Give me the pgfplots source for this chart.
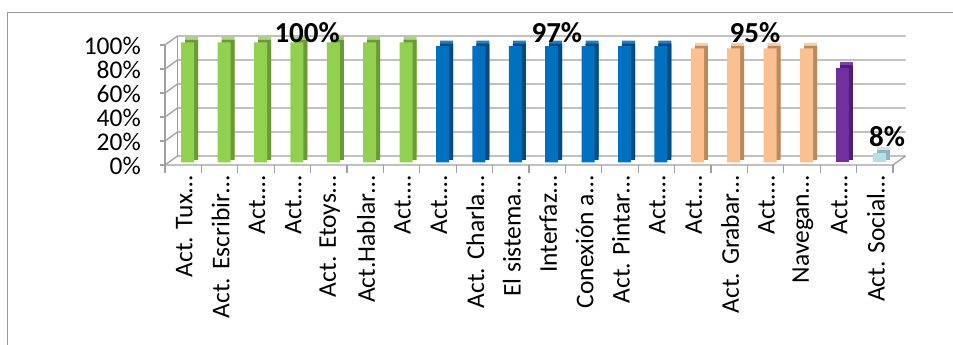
\documentclass[border=0pt]{standalone}
\usepackage{pgfplots}
\pgfplotsset{compat=1.18}
\usepackage{fontspec}
\setmainfont{Carlito}
\definecolor{gF}{HTML}{92D050}\definecolor{gS}{HTML}{6A9A38}\definecolor{gT}{HTML}{A6DA6C}
\definecolor{bF}{HTML}{0070C0}\definecolor{bS}{HTML}{004A80}\definecolor{bT}{HTML}{1A80C8}
\definecolor{oF}{HTML}{FAC08F}\definecolor{oS}{HTML}{B88A60}\definecolor{oT}{HTML}{FCCDA4}
\definecolor{pF}{HTML}{7030A0}\definecolor{pS}{HTML}{4E1F75}\definecolor{pT}{HTML}{8040B0}
\definecolor{lF}{HTML}{B7DEE8}\definecolor{lS}{HTML}{8FB5C0}\definecolor{lT}{HTML}{C8E6EE}
\definecolor{gridc}{HTML}{A0A0A0}
\begin{document}
\begin{tikzpicture}[x=1pt,y=1pt]
\useasboundingbox (0,0) rectangle (953,345);
\fill[white] (0,0) rectangle (953,345);
\draw[color=gray!80, line width=1pt] (7,0) -- (7,332) -- (953,332);
% front axis, left wall, floor
\foreach \k in {0,1,2,3,4,5} {
  \draw[gridc, line width=1.3pt] (165,180+24*\k) -- (177.5,189+24*\k) -- (905.5,189+24*\k);
  \draw[gridc, line width=1.3pt] (160,180+24*\k) -- (165,180+24*\k);
}
\draw[gridc, line width=1.3pt] (165,180) -- (165,300);
\draw[gridc, line width=1.3pt] (177.5,189) -- (177.5,309);
\draw[gridc, line width=1.3pt] (165,180) -- (893,180) -- (905.5,189);
\foreach \i in {0,...,20} {
  \draw[gridc, line width=1.3pt] (165+36.4*\i,180) -- (165+36.4*\i,172);
}
\foreach \k/\t in {0/0\%,1/20\%,2/40\%,3/60\%,4/80\%,5/100\%} {
  \node[anchor=east, inner sep=0pt, font=\fontsize{25.5}{25}\selectfont] at (141,179+24*\k) {\t};
}
\begin{axis}[
  at={(171pt,184.5pt)}, anchor=south west,
  scale only axis, width=728pt, height=120pt,
  xmin=-0.5, xmax=19.5, ymin=0, ymax=100,
  axis lines=none, clip=false,
  ybar, bar width=13pt,
]
% top-face layers
\addplot[draw=none, fill=gT, bar shift=2.5pt, yshift=3.5pt] coordinates {(0,100)(1,100)(2,100)(3,100)(4,100)(5,100)(6,100)};
\addplot[draw=none, fill=bT, bar shift=2.5pt, yshift=3.5pt] coordinates {(7,97)(8,97)(9,97)(10,97)(11,97)(12,97)(13,97)};
\addplot[draw=none, fill=oT, bar shift=2.5pt, yshift=3.5pt] coordinates {(14,95)(15,95)(16,95)(17,95)};
\addplot[draw=none, fill=pT, bar shift=2.5pt, yshift=3.5pt] coordinates {(18,79)};
\addplot[draw=none, fill=lT, bar shift=2.5pt, yshift=3.5pt] coordinates {(19,8)};
% side-face layers
\addplot[draw=none, fill=gS, bar shift=2.5pt, yshift=0.5pt] coordinates {(0,100)(1,100)(2,100)(3,100)(4,100)(5,100)(6,100)};
\addplot[draw=none, fill=bS, bar shift=2.5pt, yshift=0.5pt] coordinates {(7,97)(8,97)(9,97)(10,97)(11,97)(12,97)(13,97)};
\addplot[draw=none, fill=oS, bar shift=2.5pt, yshift=0.5pt] coordinates {(14,95)(15,95)(16,95)(17,95)};
\addplot[draw=none, fill=pS, bar shift=2.5pt, yshift=0.5pt] coordinates {(18,79)};
\addplot[draw=none, fill=lS, bar shift=2.5pt, yshift=0.5pt] coordinates {(19,8)};
% front faces
\addplot[draw=none, fill=gF, bar shift=-1.5pt, yshift=-2pt] coordinates {(0,100)(1,100)(2,100)(3,100)(4,100)(5,100)(6,100)};
\addplot[draw=none, fill=bF, bar shift=-1.5pt, yshift=-2pt] coordinates {(7,97)(8,97)(9,97)(10,97)(11,97)(12,97)(13,97)};
\addplot[draw=none, fill=oF, bar shift=-1.5pt, yshift=-2pt] coordinates {(14,95)(15,95)(16,95)(17,95)};
\addplot[draw=none, fill=pF, bar shift=-1.5pt, yshift=-2pt] coordinates {(18,79)};
\addplot[draw=none, fill=lF, bar shift=-1.5pt, yshift=-2pt] coordinates {(19,8)};
% data labels
\node[font=\bfseries\fontsize{29}{29}\selectfont, inner sep=0pt] at (axis cs:3.24,106.3) {100\%};
\node[font=\bfseries\fontsize{29}{29}\selectfont, inner sep=0pt] at (axis cs:10.1,106.3) {97\%};
\node[font=\bfseries\fontsize{29}{29}\selectfont, inner sep=0pt] at (axis cs:15.54,106.3) {95\%};
\node[font=\bfseries\fontsize{29}{29}\selectfont, inner sep=0pt] at (axis cs:19.17,19.6) {8\%};
\end{axis}
\foreach \i/\t in {0/Act. Tux…,1/Act. Escribir…,2/Act.…,3/Act.…,4/Act. Etoys…,5/Act.Hablar…,6/Act.…,7/Act.…,8/Act. Charla…,9/El sistema…,10/Interfaz…,11/Conexión a…,12/Act. Pintar…,13/Act.…,14/Act.…,15/Act. Grabar…,16/Act.…,17/Navegan…,18/Act.…,19/Act. Social…} {
  \node[rotate=90, anchor=east, inner sep=0pt, font=\fontsize{25.5}{25}\selectfont] at (165+36.4*\i+18.2+1,169) {\t};
}
\end{tikzpicture}
\end{document}
